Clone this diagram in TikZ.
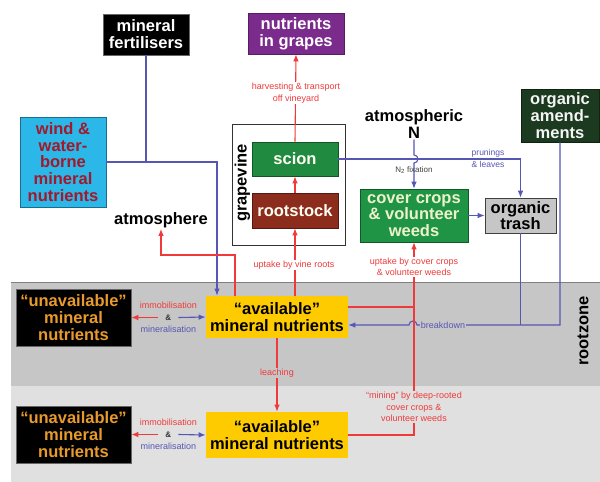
\documentclass[tikz,border=0pt]{standalone}
\usepackage{fontspec}
\setmainfont{Liberation Sans}
\usetikzlibrary{arrows.meta}
\definecolor{cblue}{HTML}{5656B4}
\definecolor{cred}{HTML}{F03A3A}
\definecolor{cpurple}{HTML}{7A2B8C}
\definecolor{ccyan}{HTML}{2BB7E8}
\definecolor{cwindtxt}{HTML}{A3182A}
\definecolor{cscion}{HTML}{1F8A40}
\definecolor{croot}{HTML}{8C2C1C}
\definecolor{ccover}{HTML}{1E9444}
\definecolor{ccovertxt}{HTML}{EEF2CC}
\definecolor{corgam}{HTML}{1B3A1F}
\definecolor{ctrash}{HTML}{C6C6C6}
\definecolor{cunavtxt}{HTML}{E89A2C}
\definecolor{cavail}{HTML}{FDCB00}
\definecolor{cband}{HTML}{C6C6C6}
\definecolor{clow}{HTML}{E0E0E0}
\definecolor{cN}{HTML}{404040}
\tikzset{
  box/.style={rectangle, inner sep=0pt, align=center, font=\bfseries\fontsize{16.5}{16.8}\selectfont, line width=0.6pt},
  lbl/.style={inner sep=1pt, align=center, font=\fontsize{9}{11.5}\selectfont},
  title/.style={inner sep=1pt, align=center, font=\bfseries\fontsize{16.5}{16.8}\selectfont},
  bl/.style={draw=cblue, line width=1.1pt},
  rl/.style={draw=cred, line width=1.1pt},
  arrowend/.style={-{Latex[length=7pt,width=5.5pt]}},
}
\begin{document}
\begin{tikzpicture}[x=1pt,y=-1pt]
\useasboundingbox (0,0) rectangle (600,482);
% background bands
\fill[white] (0,0) rectangle (600,482);
\fill[cband] (11,282) rectangle (600,386);
\draw[black!50, line width=1.2pt] (11,282.6) -- (600,282.6);
\fill[clow] (11,386) rectangle (600,482);

% grapevine frame
\draw[black!80, line width=0.7pt] (232,124) rectangle (345,245);
\node[title, rotate=90] (gvl) at (242.5,183) {grapevine};

% nodes
\node[box, fill=black, draw=black!60, text=white, minimum width=86, minimum height=41] (fert) at (146,34.5) {mineral\\fertilisers};
\node[box, fill=cpurple, draw=cpurple!70!black, text=white, minimum width=96, minimum height=41] (grapes) at (296,33.5) {nutrients\\in grapes};
\node[box, fill=ccyan, draw=ccyan!60!black, text=cwindtxt, minimum width=86, minimum height=90] (wind) at (63,162) {wind \&\\water-\\borne\\mineral\\nutrients};
\node[title] (atmos) at (161,220) {atmosphere};
\node[box, fill=cscion, draw=cscion!60!black, text=white!95!yellow, minimum width=86, minimum height=34] (scion) at (295,159) {scion};
\node[box, fill=croot, draw=croot!60!black, text=white!95!yellow, minimum width=86, minimum height=35] (root) at (295,210.5) {rootstock};
\node[title] (atmN) at (414,124) {atmospheric\\N};
\node[box, fill=corgam, draw=corgam!60!black, text=white!92!gray, minimum width=78, minimum height=53] (orgam) at (560,115.5) {organic\\amend-\\ments};
\node[box, fill=ccover, draw=ccover!60!black, text=ccovertxt, minimum width=108, minimum height=53] (cover) at (414,215.5) {cover crops\\\& volunteer\\weeds};
\node[box, fill=ctrash, draw=black!75, text=black, minimum width=71, minimum height=35] (trash) at (520.5,215.5) {organic\\trash};
\node[box, fill=black, draw=black!60, text=cunavtxt, minimum width=115, minimum height=57] (unav1) at (73.5,317.5) {“unavailable”\\mineral\\nutrients};
\node[box, fill=cavail, text=black, minimum width=142, minimum height=42] (av1) at (277,317) {“available”\\mineral nutrients};
\node[box, fill=black, draw=black!60, text=cunavtxt, minimum width=115, minimum height=57] (unav2) at (73.5,434.5) {“unavailable”\\mineral\\nutrients};
\node[box, fill=cavail, text=black, minimum width=142, minimum height=46] (av2) at (277,435) {“available”\\mineral nutrients};
\node[title, rotate=90] (rz) at (583,331) {rootzone};

% blue connectors
\coordinate (wb) at (217,162);
\draw[bl] (fert.south) -- (fert.south |- wind.east);
\draw[bl, arrowend] (wind.east) -- (wb) -- (wb |- av1.north);
\coordinate (cross) at (cover.north |- scion.east);
\draw[bl, arrowend] (scion.east) -- (scion.east -| trash.north) -- (trash.north);
\draw[bl, arrowend] (atmN.south) -- ([yshift=4pt]cross) arc[start angle=90, end angle=-90, radius=4pt] -- (cover.north);
\node[lbl, text=cN, font=\fontsize{8}{10}\selectfont] (nfix) at (414,170) {N\textsubscript{2} fixation};
\node[lbl, text=cblue, align=left, font=\fontsize{8.5}{12}\selectfont] (prun) at (488,158.5) {prunings\\\& leaves};
\draw[bl, arrowend] (cover.east) -- (trash.west);
\coordinate (brk) at (413,325);
\draw[bl] (trash.south) -- (trash.south |- brk);
\draw[bl, arrowend] (orgam.south) -- (orgam.south |- brk) -- ([xshift=4pt]brk) arc[start angle=0, end angle=180, radius=4pt] -- (brk -| av1.east);
\node[lbl, text=cblue, fill=cband, inner sep=0.5pt] (brkl) at (443,325) {breakdown};

% red connectors
\draw[rl, arrowend] (scion.north) -- (grapes.south);
\node[lbl, text=cred, fill=white] (harv) at (296,93) {harvesting \& transport\\off vineyard};
\draw[rl, arrowend] (root.north) -- (scion.south);
\draw[rl, arrowend] (av1.north -| root.south) -- (root.south);
\node[lbl, text=cred, fill=white] (upv) at (294,265) {uptake by vine roots};
\coordinate (at1) at (235,255);
\draw[rl, arrowend] (av1.north -| at1) -- (at1) -- (at1 -| atmos.south) -- (atmos.south);
\draw[rl] ([yshift=10pt]av1.east) -- ([yshift=10pt]av1.east -| cover.south);
\draw[rl, arrowend] (av2.east) -- (av2.east -| cover.south) -- (cover.south);
\node[lbl, text=cred, fill=white] (upc) at (414,267) {uptake by cover crops\\\& volunteer weeds};
\node[lbl, text=cred, fill=clow] (mine) at (414,407) {“mining” by deep-rooted\\cover crops \&\\volunteer weeds};
\draw[rl, arrowend] (av1.south) -- (av2.north);
\node[lbl, text=cred, fill=cband] (leach) at (277,373) {leaching};

% immobilisation / mineralisation
\foreach \u/\a in {unav1/av1, unav2/av2} {
  \node[lbl, text=cred] at ([yshift=12pt,xshift=37pt]\u.east) {immobilisation};
  \node[lbl, text=black!80, font=\bfseries\fontsize{8}{10}\selectfont] (amp\u) at ([xshift=37pt]\u.east) {\&};
  \node[lbl, text=cblue] at ([yshift=-12pt,xshift=37pt]\u.east) {mineralisation};
  \draw[rl, arrowend] ([xshift=-6pt]amp\u.west) -- (\u.east);
  \draw[bl, arrowend] ([xshift=6pt]amp\u.east) -- (\a.west);
}
\end{tikzpicture}
\end{document}
